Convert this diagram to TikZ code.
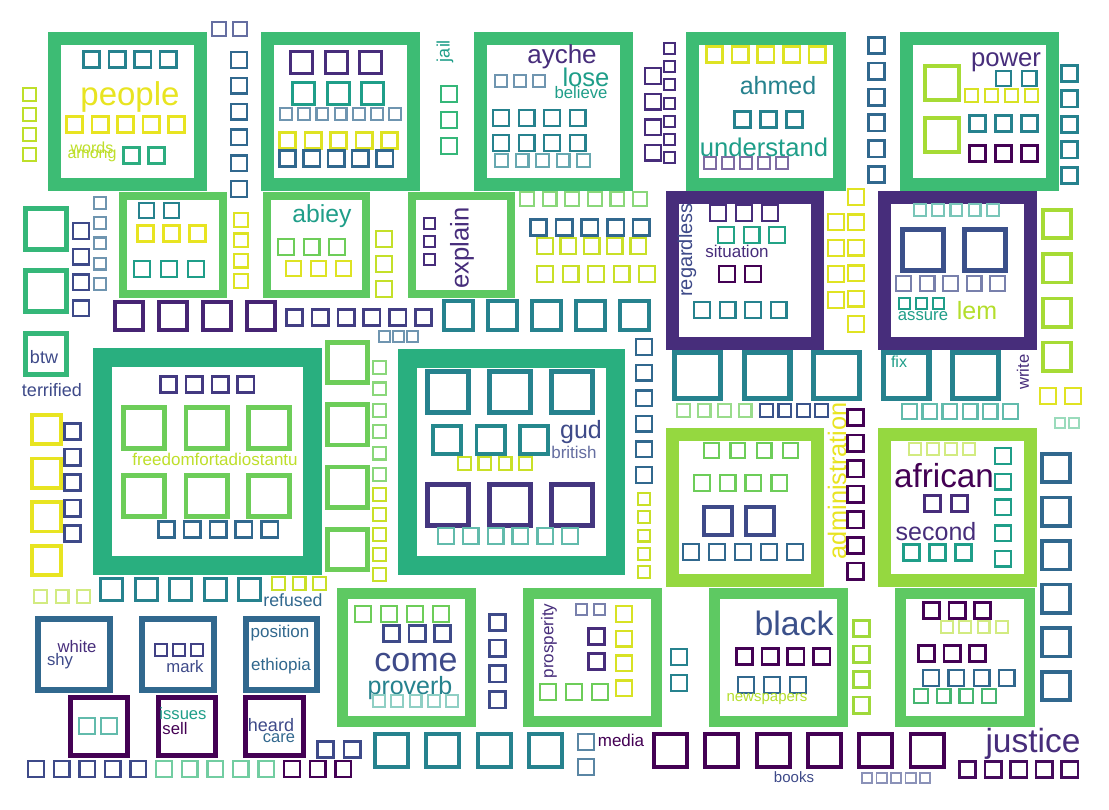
\documentclass[tikz,border=0pt]{standalone}
\usepackage{fontspec}
\setmainfont{Liberation Sans}

\definecolor{vpur}{HTML}{440154}
\definecolor{vind}{HTML}{472D7B}
\definecolor{vblu}{HTML}{3E4A89}
\definecolor{vste}{HTML}{31688E}
\definecolor{vtea}{HTML}{26828E}
\definecolor{vtgr}{HTML}{1F9E89}
\definecolor{vgrn}{HTML}{35B779}
\definecolor{vlgr}{HTML}{6DCD59}
\definecolor{vygr}{HTML}{B4DE2C}
\definecolor{vyel}{HTML}{E8E421}
\definecolor{fgrn}{HTML}{3DBC74}
\definecolor{fmid}{HTML}{29AF7F}
\definecolor{flgr}{HTML}{5EC962}
\definecolor{fygr}{HTML}{95D840}

% row / column of empty glyph boxes: colour, x, y, size, step, count
\newcommand{\trow}[6]{%
  \pgfmathsetmacro{\tlw}{1+0.08*#4}%
  \foreach \k in {1,...,#6}{%
    \pgfmathsetmacro{\tx}{#2+(\k-1)*#5+\tlw/2}%
    \draw[#1, line width=\tlw pt] (\tx,{#3+\tlw/2}) rectangle ++({#4-\tlw},{#4-\tlw});
  }}
\newcommand{\tcol}[6]{%
  \pgfmathsetmacro{\tlw}{1+0.08*#4}%
  \foreach \k in {1,...,#6}{%
    \pgfmathsetmacro{\ty}{#3+(\k-1)*#5+\tlw/2}%
    \draw[#1, line width=\tlw pt] ({#2+\tlw/2},\ty) rectangle ++({#4-\tlw},{#4-\tlw});
  }}
% big frame: colour, line width, x1, y1, x2, y2
\newcommand{\tframe}[6]{\draw[#1, line width=#2pt] ({#3+#2/2},{#4+#2/2}) rectangle ({#5-#2/2},{#6-#2/2});}

\tikzset{wrd/.style={inner sep=0pt, anchor=base, font=\fontsize{#1}{#1}\selectfont}}

\begin{document}
\begin{tikzpicture}[x=1pt, y=-1pt]
    \useasboundingbox (0,0) rectangle (1109,810);
    \fill[white] (0,0) rectangle (1109,810);

    % top band
    \trow{vblu!80}{211}{21}{16}{21}{2}
    \tcol{vygr!80!vyel}{22}{87}{15}{20}{4}
    \tframe{fgrn}{13}{48}{32}{207}{191}
    \trow{vtea}{82}{50}{19}{25.6}{4}
    \node[wrd=33, vyel] (people) at (130,106) {people};
    \trow{vyel}{65}{115}{19}{25.5}{5}
    \node[wrd=16, vygr!80!vyel] (words) at (92,154) {words};
    \node[wrd=16, vygr!80!vyel] (among) at (92,159) {among};
    \trow{vgrn!60!vtgr}{122}{146}{19}{25}{2}
    \tcol{vste}{230}{51}{18}{25.8}{6}

    \tframe{fgrn}{13}{261}{32}{420}{191}
    \trow{vind}{289}{50}{25}{34.5}{3}
    \trow{vtgr}{291}{81}{25}{34.5}{3}
    \trow{vste!70}{279}{107}{14}{18.2}{7}
    \trow{vyel!80!vygr}{278}{131}{19}{25.5}{5}
    \trow{vste}{278}{149}{19}{24.3}{5}

    \node[wrd=18, vtgr, anchor=center, rotate=90] (jail) at (445,51) {jail};
    \tcol{vgrn}{440}{85}{18}{26}{3}

    \tframe{fgrn}{13}{474}{32}{633}{191}
    \node[wrd=26, vind] (ayche) at (562,64) {ayche};
    \node[wrd=25.6, vtgr] (lose) at (586,87) {lose};
    \node[wrd=16.7, vtgr] (believe) at (581,99) {believe};
    \trow{vste!70}{494}{74}{14}{19}{3}
    \trow{vtea}{492}{109}{18}{25.5}{4}
    \trow{vtea}{492}{134}{18}{25.5}{4}
    \trow{vtea!70}{494}{153}{15}{20.5}{5}
    \tcol{vind}{644}{67}{18}{25.6}{4}
    \tcol{vind}{663}{42}{13}{18.2}{7}

    \tframe{fgrn}{13}{686}{32}{846}{191}
    \trow{vyel!80!vygr}{705}{45}{19}{25.7}{5}
    \node[wrd=25, vtea] (ahmed) at (778,95) {ahmed};
    \trow{vtea}{733}{110}{19}{26}{3}
    \node[wrd=25.6, vtgr] (understand) at (764,157) {understand};
    \trow{vind!70}{703}{156}{14}{18}{5}
    \tcol{vste}{867}{36}{19}{25.8}{6}

    \tframe{fgrn}{13}{900}{32}{1059}{191}
    \node[wrd=25.7, vind] (power) at (1006,67) {power};
    \trow{vtea}{995}{70}{17}{25.5}{2}
    \trow{vyel!70!vygr}{964}{88}{15}{20}{4}
    \tcol{vygr!80!vlgr}{923}{64}{38}{52}{2}
    \trow{vtea}{968}{114}{19}{26}{3}
    \trow{vpur}{968}{144}{19}{26}{3}
    \tcol{vtea}{1060}{64}{19}{25.5}{5}

    % second band
    \tcol{vgrn}{23}{206}{46}{62}{2}
    \tcol{vblu}{72}{222}{18}{25.7}{4}
    \tcol{vste!70}{93}{196}{14}{20.2}{5}
    \tframe{flgr}{8}{119}{192}{227}{298}
    \trow{vtea}{138}{202}{17}{25}{2}
    \trow{vyel}{136}{224}{19}{26}{3}
    \trow{vtgr}{133}{260}{18}{27}{3}
    \tcol{vyel!80!vygr}{233}{212}{16}{20.3}{4}
    \tframe{flgr}{8}{263}{192}{370}{298}
    \node[wrd=24.7, vtgr] (abiey) at (322,223) {abiey};
    \trow{vlgr}{277}{238}{18}{25.5}{3}
    \trow{vyel!80!vygr}{285}{260}{17}{25}{3}
    \tcol{vygr!70!vyel}{375}{230}{18}{25}{3}
    \tframe{flgr}{8}{408}{192}{515}{298}
    \tcol{vind}{423}{217}{13}{18}{3}
    \node[wrd=25.6, vind, anchor=center, rotate=90] (explain) at (462,248) {explain};
    \trow{vlgr!80}{519}{191}{16}{22.6}{6}
    \trow{vste}{529}{218}{19}{25.7}{5}
    \trow{vygr!60!vyel}{536}{237}{18}{23.3}{5}
    \trow{vygr!60!vyel}{536}{265}{18}{25.5}{5}

    \tframe{vind}{13}{666}{191}{824}{350}
    \trow{vind}{709}{204}{18}{26}{3}
    \trow{vtgr!80!vgrn}{717}{226}{18}{25.5}{3}
    \node[wrd=17, vind] (situation) at (737,258) {situation};
    \trow{vpur}{718}{265}{18}{26}{2}
    \trow{vtea}{693}{301}{18}{25.5}{4}
    \node[wrd=20, vblu, anchor=center, rotate=90] (regardless) at (687,250) {regardless};
    \tcol{vyel!85!vygr}{827}{213}{18}{26}{4}
    \tcol{vyel!85!vygr}{847}{188}{18}{25.4}{6}

    \tframe{vind}{13}{878}{191}{1037}{350}
    \trow{vtgr!60}{913}{203}{14}{18.2}{5}
    \trow{vblu!80!vste}{900}{227}{46}{62}{2}
    \trow{vblu!70}{895}{275}{17}{23.5}{5}
    \trow{vtgr}{898}{297}{13}{17}{3}
    \node[wrd=16.7, vtgr] (assure) at (923,321) {assure};
    \node[wrd=25, vygr] (lem) at (977,320) {lem};
    \tcol{vygr!80!vlgr}{1041}{208}{32}{44.3}{4}

    \trow{vind!80!vpur}{113}{300}{32}{44}{4}
    \trow{vblu!60!vind}{285}{308}{19}{25.8}{6}
    \trow{vste!70}{378}{330}{13}{14}{3}
    \trow{vtea}{442}{299}{33}{44}{5}

    % middle band
    \tcol{vgrn}{23}{331}{46}{1}{1}
    \node[wrd=18, vblu] (btw) at (44,363) {btw};
    \node[wrd=18, vblu] (terrified) at (52,396) {terrified};
    \tcol{vyel}{30}{413}{33}{43.7}{4}
    \tcol{vblu}{63}{422}{19}{25.5}{5}

    \tframe{fmid}{19}{93}{348}{322}{575}
    \trow{vind!60!vblu}{159}{375}{19}{25.8}{4}
    \trow{vlgr}{121}{405}{46}{62.5}{3}
    \node[wrd=17, vygr!80!vyel] (freedom) at (215,465) {freedomfortadiostantu};
    \trow{vlgr}{121}{473}{46}{62.5}{3}
    \trow{vste}{157}{520}{19}{25.8}{5}
    \tcol{vlgr}{325}{340}{45}{62.3}{4}
    \tcol{vlgr!80}{372}{360}{15}{21.4}{6}
    \tcol{vygr!60!vyel}{372}{487}{15}{20}{5}

    \tframe{fmid}{19}{398}{349}{625}{575}
    \trow{vtea}{425}{369}{46}{62}{3}
    \trow{vtea!80!vtgr}{431}{424}{32}{43.5}{3}
    \node[wrd=25, vblu] (gud) at (581,438) {gud};
    \node[wrd=17, vblu!80] (british) at (574,458) {british};
    \trow{vygr!60!vyel}{457}{456}{15}{20.3}{4}
    \trow{vind!70!vblu}{425}{482}{46}{62}{3}
    \trow{vtgr!70}{437}{527}{18}{24.8}{6}
    \tcol{vste}{635}{338}{18}{25.6}{6}
    \tcol{vygr!60!vyel}{637}{492}{14}{18.3}{5}

    \trow{vtea}{672}{350}{51}{69.5}{5}
    \node[wrd=16, vtgr] (fix) at (899,368) {fix};
    \node[wrd=16.6, vind, anchor=center, rotate=90] (write) at (1023,372) {write};
    \trow{vlgr!70}{676}{403}{15}{20.5}{4}
    \trow{vblu!70!vste}{759}{403}{15}{18.4}{4}
    \trow{vtgr!70}{901}{403}{17}{20.2}{6}
    \trow{vyel!85!vygr}{1039}{387}{18}{25}{2}
    \trow{vgrn!50}{1054}{417}{12}{14}{2}

    \tframe{fygr}{13}{666}{428}{824}{587}
    \trow{vlgr}{703}{442}{17}{26.3}{4}
    \trow{vlgr}{693}{474}{18}{25.7}{4}
    \trow{vblu}{702}{505}{32}{42}{2}
    \trow{vste}{682}{543}{18}{26}{5}
    \node[wrd=25.3, vyel, anchor=center, rotate=90] (administration) at (837,481) {administration};
    \tcol{vpur}{846}{408}{19}{25.6}{7}

    \tframe{fygr}{13}{878}{428}{1037}{587}
    \trow{vygr!60}{908}{442}{14}{18}{4}
    \node[wrd=33.3, vpur] (african) at (944,487) {african};
    \trow{vind}{923}{494}{19}{27}{2}
    \node[wrd=25, vind] (second) at (936,540) {second};
    \trow{vtgr}{902}{543}{19}{26}{3}
    \tcol{vtgr}{994}{447}{18}{25.7}{5}
    \tcol{vste}{1040}{452}{32}{43.6}{6}

    % bottom band
    \trow{vygr!60}{33}{589}{15}{21.5}{3}
    \trow{vtea}{99}{577}{25}{34.5}{5}
    \trow{vygr!60!vyel}{271}{576}{15}{20.5}{3}
    \node[wrd=17.7, vste] (refused) at (293,606) {refused};

    \tframe{vste}{6}{35}{616}{113}{693}
    \node[wrd=16.7, vind] (white) at (77,652) {white};
    \node[wrd=16.7, vblu] (shy) at (60,665) {shy};
    \tframe{vste}{6}{139}{616}{217}{693}
    \trow{vblu!70!vind}{154}{643}{14}{18}{3}
    \node[wrd=16.7, vblu] (mark) at (185,672) {mark};
    \tframe{vste}{6}{243}{616}{320}{693}
    \node[wrd=17, vste] (position) at (280,637) {position};
    \node[wrd=17, vste] (ethiopia) at (281,670) {ethiopia};

    \tframe{vpur}{5}{68}{695}{130}{758}
    \trow{vtgr!70}{78}{717}{18}{22}{2}
    \tframe{vpur}{5}{156}{695}{218}{758}
    \node[wrd=16.6, vtgr] (issues) at (183,719) {issues};
    \node[wrd=16.7, vpur] (sell) at (175,734) {sell};
    \tframe{vpur}{5}{243}{695}{306}{758}
    \node[wrd=18, vblu] (heard) at (271,731) {heard};
    \node[wrd=16.5, vste] (care) at (279,742) {care};

    \trow{vblu}{27}{760}{18}{25.6}{5}
    \trow{vgrn!70}{155}{760}{18}{25.6}{5}
    \trow{vpur}{283}{760}{18}{25.6}{3}
    \trow{vblu}{316}{740}{19}{26.5}{2}

    \tframe{flgr}{11}{337}{588}{476}{727}
    \trow{vlgr}{354}{605}{18}{26}{4}
    \trow{vblu}{382}{624}{19}{25.5}{3}
    \node[wrd=34, vblu] (come) at (416,671) {come};
    \node[wrd=25, vtea] (proverb) at (410,694) {proverb};
    \trow{vtgr!50}{372}{694}{14}{18.3}{5}
    \tcol{vblu}{488}{613}{19}{25.7}{4}

    \tframe{flgr}{11}{523}{588}{662}{727}
    \node[wrd=17, vind, anchor=center, rotate=90] (prosperity) at (549,641) {prosperity};
    \trow{vblu!70}{575}{603}{13}{18}{2}
    \tcol{vind}{587}{627}{19}{25}{2}
    \tcol{vyel!70!vygr}{615}{605}{18}{24.7}{4}
    \trow{vlgr}{539}{683}{18}{26}{3}
    \tcol{vtea}{670}{648}{18}{26}{2}

    \tframe{flgr}{11}{709}{588}{848}{727}
    \node[wrd=33.8, vblu!80!vste] (black) at (794,635) {black};
    \trow{vpur}{735}{647}{19}{25.7}{4}
    \trow{vste}{737}{676}{18}{26}{3}
    \node[wrd=15, vygr] (newspapers) at (767,701) {newspapers};
    \tcol{vygr!70!vlgr}{852}{619}{19}{25.5}{4}

    \tframe{flgr}{11}{895}{588}{1035}{727}
    \trow{vpur}{922}{601}{19}{25.5}{3}
    \trow{vygr!60}{940}{620}{14}{18.3}{4}
    \trow{vpur}{917}{644}{19}{25.5}{3}
    \trow{vste}{922}{669}{18}{25.3}{4}
    \trow{vtgr!50!vlgr}{913}{688}{16}{22.7}{4}

    \trow{vtea}{373}{732}{37}{51.3}{4}
    \tcol{vste!80}{577}{733}{18}{25}{2}
    \node[wrd=17, vpur] (media) at (621,746) {media};
    \trow{vpur}{652}{732}{37}{51.3}{6}
    \node[wrd=15, vblu] (books) at (794,782) {books};
    \trow{vblu!60}{861}{772}{12}{14.5}{5}
    \node[wrd=33.5, vind] (justice) at (1033,752) {justice};
    \trow{vpur!80!vind}{958}{760}{19}{25.6}{5}
\end{tikzpicture}
\end{document}
